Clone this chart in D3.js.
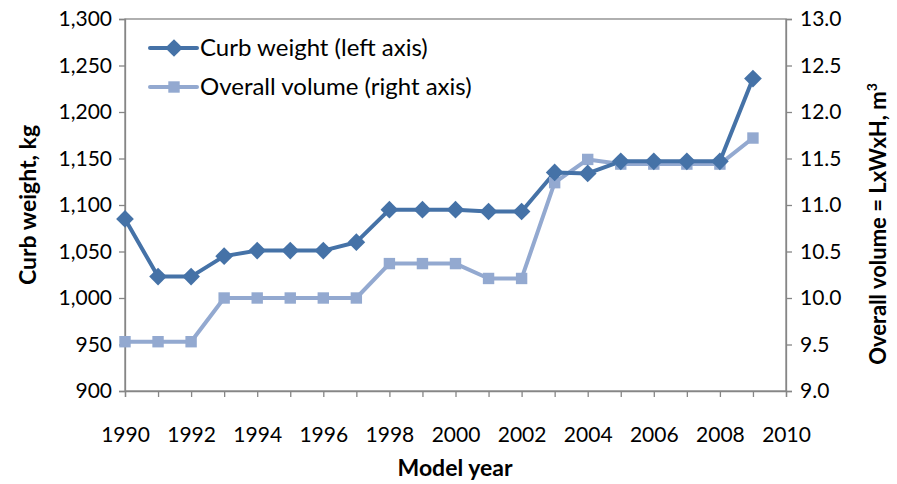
<!DOCTYPE html>
<html><head><meta charset="utf-8">
<script src="https://cdn.jsdelivr.net/npm/d3@7"></script>
<style>body{margin:0;background:#fff}svg{display:block}text{font-family:Lato,"Open Sans",sans-serif;fill:#000}</style>
</head><body><svg id="c" width="897" height="484"></svg>
<script>
const years = [1990,1991,1992,1993,1994,1995,1996,1997,1998,1999,2000,2001,2002,2003,2004,2005,2006,2007,2008,2009];
const curbWeight = [1085,1023,1023,1045,1051,1051,1051,1060,1095,1095,1095,1093,1093,1135,1134,1147,1147,1147,1147,1236];
const overallVolume = [9.53,9.53,9.53,10.0,10.0,10.0,10.0,10.0,10.37,10.37,10.37,10.21,10.21,11.24,11.49,11.44,11.44,11.44,11.44,11.72];
const leftTicks = [900,950,1000,1050,1100,1150,1200,1250,1300];
const rightTicks = [9.0,9.5,10.0,10.5,11.0,11.5,12.0,12.5,13.0];
const xLabelTicks = [1990,1992,1994,1996,1998,2000,2002,2004,2006,2008,2010];
const seriesNames = ["Curb weight (left axis)","Overall volume (right axis)"];

const svg = d3.select("#c");
const L=125, R=786, T=19, B=391;
const x = d3.scaleLinear().domain([1990,2010]).range([L,R]);
const yL = d3.scaleLinear().domain([900,1300]).range([B,T]);
const yR = d3.scaleLinear().domain([9,13]).range([B,T]);
const axisCol="#868686", c1="#4572A7", c2="#93A9D0";

svg.append("rect").attr("x",L).attr("y",T).attr("width",R-L).attr("height",B-T).attr("fill","none").attr("stroke",axisCol).attr("stroke-width",1.3);

const fmt = d3.format(",");
const gl = svg.append("g").attr("transform",`translate(${L},0)`)
  .call(d3.axisLeft(yL).tickValues(leftTicks).tickFormat(fmt).tickSize(6).tickPadding(7));
const gr = svg.append("g").attr("transform",`translate(${R},0)`)
  .call(d3.axisRight(yR).tickValues(rightTicks).tickFormat(d3.format(".1f")).tickSize(6).tickPadding(8));
const gx = svg.append("g").attr("transform",`translate(0,${B})`)
  .call(d3.axisBottom(x).tickValues(d3.range(1990,2011)).tickFormat(d=>xLabelTicks.includes(d)?d:"").tickSize(6).tickPadding(30));
[gl,gr,gx].forEach(g=>{
  g.selectAll("path,line").attr("stroke",axisCol).attr("stroke-width",1.3);
  g.selectAll("text").attr("font-size",21).style("font-family","Lato,'Open Sans',sans-serif").attr("fill","#000");
});

const line1 = d3.line().x((d,i)=>x(years[i])).y(d=>yL(d));
const line2 = d3.line().x((d,i)=>x(years[i])).y(d=>yR(d));
svg.append("path").datum(overallVolume).attr("d",line2).attr("fill","none").attr("stroke",c2).attr("stroke-width",4).attr("stroke-linejoin","round");
svg.append("path").datum(curbWeight).attr("d",line1).attr("fill","none").attr("stroke",c1).attr("stroke-width",4).attr("stroke-linejoin","round");
const diamond = d3.symbol().type(d3.symbolDiamond2).size(200);
const square = d3.symbol().type(d3.symbolSquare).size(130);
svg.append("g").selectAll("path").data(overallVolume).join("path")
  .attr("d",square).attr("transform",(d,i)=>`translate(${x(years[i])},${yR(d)})`).attr("fill",c2);
svg.append("g").selectAll("path").data(curbWeight).join("path")
  .attr("d",diamond).attr("transform",(d,i)=>`translate(${x(years[i])},${yL(d)})`).attr("fill",c1);

// legend
const lg = svg.append("g");
[[c1,diamond],[c2,square]].forEach(([col,sym],i)=>{
  const yy = 48 + i*39;
  lg.append("line").attr("x1",150).attr("x2",197).attr("y1",yy).attr("y2",yy).attr("stroke",col).attr("stroke-width",4).attr("stroke-linecap","round");
  lg.append("path").attr("d",sym).attr("transform",`translate(174,${yy})`).attr("fill",col);
  lg.append("text").attr("x",200).attr("y",yy+8).attr("font-size",24).text(seriesNames[i]);
});

svg.append("text").attr("transform",`translate(36,${(T+B)/2}) rotate(-90)`).attr("text-anchor","middle").attr("font-size",23).attr("font-weight","bold").text("Curb weight, kg");
const rt = svg.append("text").attr("transform",`translate(886,224) rotate(-90)`).attr("text-anchor","middle").attr("font-size",22).attr("font-weight","bold");
rt.append("tspan").text("Overall volume = LxWxH, m");
rt.append("tspan").attr("font-size",14).attr("dy",-9).text("3");
svg.append("text").attr("x",455).attr("y",476).attr("text-anchor","middle").attr("font-size",23).attr("font-weight","bold").text("Model year");
</script></body></html>
